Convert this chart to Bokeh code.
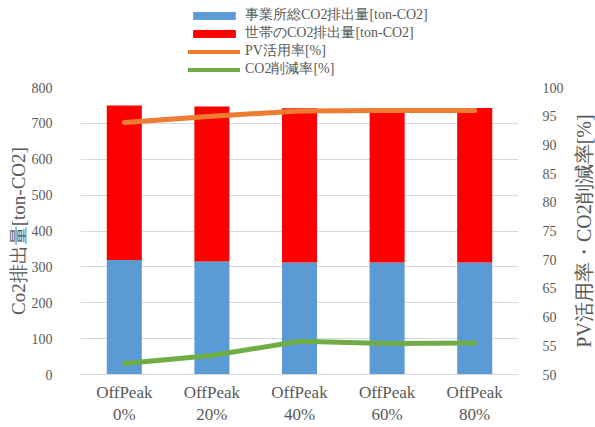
import math
from bokeh.plotting import figure
from bokeh.layouts import column, row
from bokeh.models import (Range1d, LinearAxis, SingleIntervalTicker, Legend, LegendItem, FactorRange,
                          ColumnDataSource, Label)
from bokeh.embed import file_html
from bokeh.resources import INLINE

categories = ["OffPeak\n0%", "OffPeak\n20%", "OffPeak\n40%", "OffPeak\n60%", "OffPeak\n80%"]
office_co2 = [319, 315, 312, 312, 312]
household_co2 = [431, 432, 430, 430, 431]
pv_rate = [93.9, 95.0, 95.9, 96.0, 96.0]
co2_reduction = [51.9, 53.3, 55.8, 55.4, 55.5]
series_labels = ["事業所総CO2排出量[ton-CO2]", "世帯のCO2排出量[ton-CO2]", "PV活用率[%]", "CO2削減率[%]"]
series_colors = ["#5B9BD5", "#FF0000", "#ED7D31", "#70AD47"]
left_title = "Co2排出量[ton-CO2]"
right_title = "PV活用率・CO2削減率[%]"

FONT = "Liberation Serif"
TXT = "#595959"

src = ColumnDataSource(dict(cat=categories, office=office_co2, household=household_co2,
                            pv=pv_rate, red=co2_reduction))

# ---- legend strip (legend-only renderers, nothing drawn in the strip itself) ----
lg = figure(width=595, height=78, x_range=Range1d(0, 1), y_range=Range1d(0, 1),
            x_axis_location=None, y_axis_location=None,
            output_backend="svg", toolbar_location=None,
            min_border_left=80, min_border_right=77, min_border_top=0, min_border_bottom=0)
lg.grid.visible = False
lg.outline_line_color = None
dummy = ColumnDataSource(dict(x=[float("nan")], y=[float("nan")]))
r1 = lg.rect("x", "y", width=0.1, height=0.1, source=dummy, color=series_colors[0])
r2 = lg.rect("x", "y", width=0.1, height=0.1, source=dummy, color=series_colors[1])
r3 = lg.line("x", "y", source=dummy, line_color=series_colors[2], line_width=4, line_cap="round")
r4 = lg.line("x", "y", source=dummy, line_color=series_colors[3], line_width=4, line_cap="round")
legend = Legend(items=[LegendItem(label=t, renderers=[r]) for t, r in zip(series_labels, [r1, r2, r3, r4])],
                location=(108, 0), orientation="vertical", border_line_color=None, background_fill_alpha=0,
                label_text_font=FONT, label_text_font_size="14px", label_text_color=TXT,
                glyph_width=52, glyph_height=9, spacing=0, padding=0, margin=0,
                label_height=16, label_standoff=5)
lg.add_layout(legend, "center")

# ---- main chart ----
p = figure(width=571, height=349, x_range=FactorRange(*categories), y_range=Range1d(0, 800),
           output_backend="svg", toolbar_location=None,
           min_border_left=80, min_border_right=53, min_border_top=9, min_border_bottom=51)
p.outline_line_color = None
p.extra_y_ranges = {"pct": Range1d(50, 100)}

bars = p.vbar_stack(["office", "household"], x="cat", width=0.4, source=src,
                    color=series_colors[:2], line_color=None)
p.line("cat", "pv", source=src, y_range_name="pct", line_color=series_colors[2], line_width=5, line_cap="round")
p.line("cat", "red", source=src, y_range_name="pct", line_color=series_colors[3], line_width=5, line_cap="round")

p.yaxis.ticker = SingleIntervalTicker(interval=100)
p.yaxis.axis_label = left_title
ax2 = LinearAxis(y_range_name="pct", ticker=SingleIntervalTicker(interval=5))
p.add_layout(ax2, "right")

for ax in [p.yaxis[0], ax2]:
    ax.axis_line_color = None
    ax.major_tick_line_color = None
    ax.minor_tick_line_color = None
    ax.major_label_text_font = FONT
    ax.major_label_text_font_size = "14px"
    ax.major_label_text_color = TXT
p.yaxis[0].axis_label_text_font = FONT
p.yaxis[0].axis_label_text_font_style = "normal"
p.yaxis[0].axis_label_text_color = TXT
p.yaxis[0].axis_label_text_font_size = "19px"
p.yaxis[0].major_label_standoff = 22
p.yaxis[0].axis_label_standoff = 0
ax2.major_label_standoff = 18

xa = p.xaxis[0]
xa.axis_line_color = "#d9d9d9"
xa.major_tick_line_color = None
xa.minor_tick_line_color = None
xa.major_label_text_font = FONT
xa.major_label_text_font_size = "17px"
xa.major_label_text_color = TXT
xa.major_label_standoff = 2

p.xgrid.grid_line_color = None
p.ygrid.grid_line_color = "#d9d9d9"
p.ygrid.grid_line_width = 1

# ---- right-hand axis title (reads bottom to top) ----
side = figure(width=24, height=349, x_range=Range1d(0, 1), y_range=Range1d(0, 1),
              x_axis_location=None, y_axis_location=None,
              output_backend="svg", toolbar_location=None,
              min_border_left=0, min_border_right=0, min_border_top=9, min_border_bottom=51)
side.grid.visible = False
side.outline_line_color = None
side.add_layout(Label(x=0.5, y=0.5, text=right_title, angle=math.pi / 2,
                      text_align="center", text_baseline="middle",
                      text_font=FONT, text_font_size="20px", text_color=TXT))

layout = column(lg, row(p, side, spacing=0), spacing=0)
open("out.html", "w").write(file_html(layout, INLINE))
